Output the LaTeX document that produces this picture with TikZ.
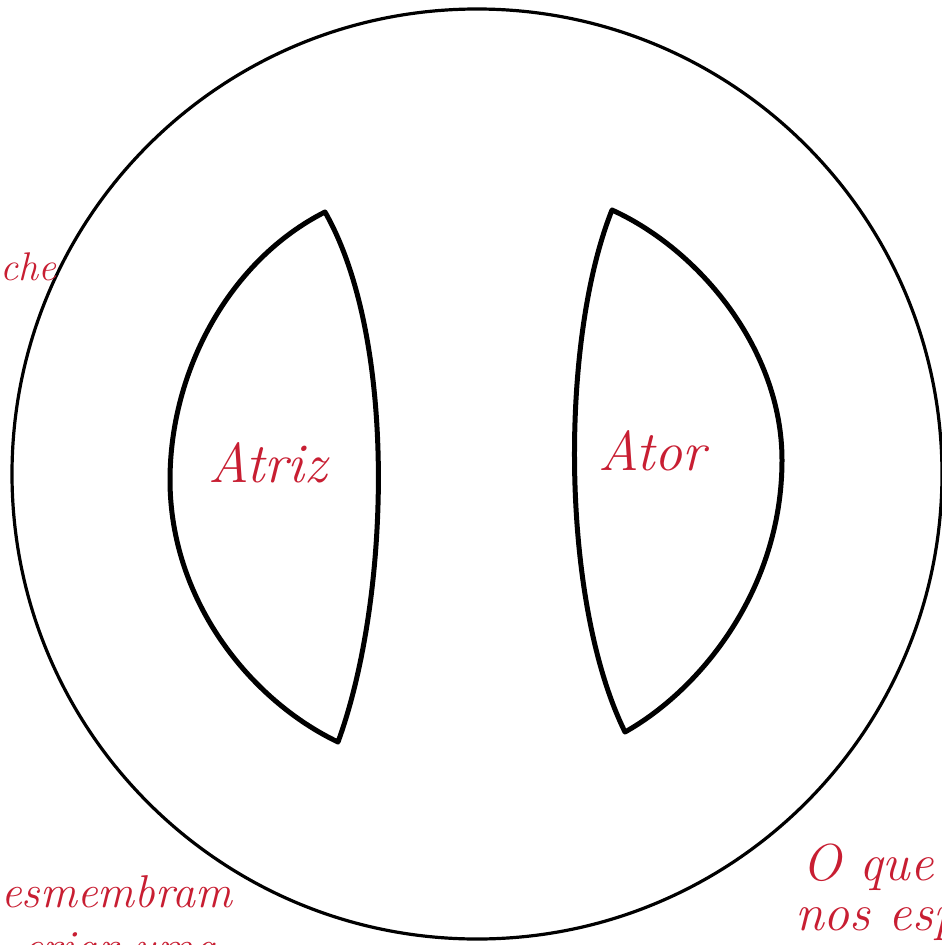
\documentclass[tikz,border=0pt]{standalone}
\definecolor{ink}{RGB}{200,30,50}
\tikzset{
  lens/.style={draw=black, line width=5pt, line join=round},
  hand/.style={text=ink, font=\itshape\fontsize{52}{56}\selectfont, inner sep=0pt},
}
\begin{document}
\begin{tikzpicture}[x=1pt,y=-1pt]
\useasboundingbox (0,0) rectangle (942,945);
\fill[white] (0,0) rectangle (942,945);
\begin{scope}
\clip (0,0) rectangle (942,945);
\node[draw=black, line width=3.2pt, circle, minimum size=930pt, inner sep=0pt] (stage) at (477,474) {};
\path[lens] (325,212) .. controls (230,260) and (170,370) .. (170,480)
  .. controls (170,600) and (250,700) .. (338,742)
  .. controls (390,600) and (398,340) .. cycle;
\path[lens] (612,210) .. controls (700,250) and (782,350) .. (782,460)
  .. controls (782,590) and (700,690) .. (625,732)
  .. controls (560,600) and (560,340) .. cycle;
\node[hand, anchor=base west, font=\itshape\fontsize{56}{60}\selectfont] (atriz) at (208,482) {Atriz};
\node[hand, anchor=base west, font=\itshape\fontsize{56}{60}\selectfont] (ator) at (598,470) {Ator};
\node[hand, anchor=base west, font=\itshape\fontsize{40}{44}\selectfont] (che) at (0,280) {che};
\node[hand, anchor=base west, font=\itshape\fontsize{46}{50}\selectfont] (esm) at (1,907) {esmembram};
\node[hand, anchor=base west, font=\itshape\fontsize{46}{50}\selectfont] (criar) at (22,962) {criar uma};
\node[hand, anchor=base west] (oque) at (802,880) {O que};
\node[hand, anchor=base west] (nos) at (795,930) {nos esp};
\end{scope}
\end{tikzpicture}
\end{document}
